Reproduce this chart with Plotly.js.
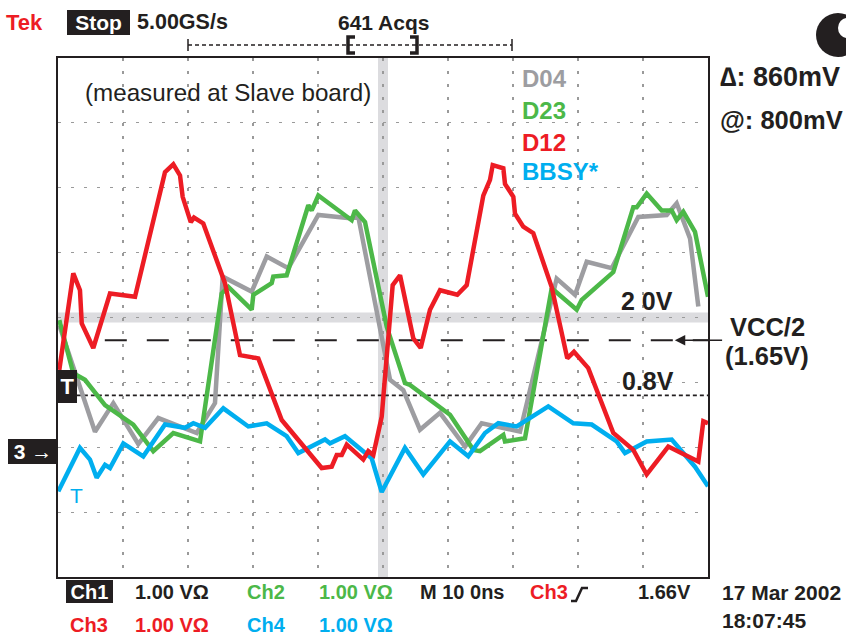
<!DOCTYPE html>
<html><head><meta charset="utf-8">
<script src="https://cdn.plot.ly/plotly-3.0.1.min.js"></script>
<style>html,body{margin:0;padding:0;background:#fff;}#c{width:846px;height:636px;}</style>
</head><body><div id="c"></div>
<script>
// time axis: ns (M 10.0 ns/div), vertical axis: volts (1.00 V/div)
const d04_t = [0.2, 3.38, 5.69, 8.51, 12.35, 15.43, 21.34, 24.15, 25.34, 29.8, 32.11, 35.43, 40.05, 44.92, 46.2, 51.08, 53.12, 55.69, 58.77, 62.62, 65.18, 71.08, 76.72, 79.54, 81.34, 85.18, 89.28, 93.65, 95.18, 97.23, 98.51];
const d04_v = [1.88, 0.91, 0.24, 0.68, 0.05, 0.45, 0.22, 0.68, 2.63, 2.40, 2.94, 2.76, 3.58, 3.53, 3.55, 1.04, 0.88, 0.27, 0.53, 0.01, 0.37, 0.24, 2.60, 2.35, 2.86, 2.76, 3.55, 3.58, 3.76, 3.22, 2.17];

const d23_t = [0.2, 2.35, 4.15, 7.23, 11.58, 14.66, 17.74, 21.85, 25.18, 26.2, 29.8, 30.05, 32.88, 33.12, 35.18, 38.51, 39.03, 40.05, 45.18, 45.69, 47.23, 50.57, 53.38, 54.15, 60.31, 63.89, 64.92, 68.51, 68.77, 71.85, 75.95, 79.8, 80.57, 85.43, 88.51, 89.03, 90.57, 92.88, 94.42, 95.18, 96.2, 98.0, 100];
const d23_v = [1.96, 1.14, 1.04, 0.65, 0.35, -0.06, 0.22, 0.09, 2.37, 2.47, 2.12, 2.35, 2.53, 2.63, 2.65, 3.73, 3.65, 3.88, 3.50, 3.65, 3.47, 1.86, 0.99, 0.96, 0.50, -0.04, -0.06, 0.19, 0.09, 0.14, 2.45, 2.12, 2.27, 2.70, 3.70, 3.70, 3.91, 3.65, 3.65, 3.50, 3.63, 3.32, 2.32];

const bbsy_t = [0.05, 3.38, 4.92, 5.95, 7.23, 8.0, 10.05, 13.12, 16.46, 19.54, 20.82, 22.62, 25.43, 29.28, 32.11, 35.18, 36.97, 41.08, 41.85, 44.15, 48.26, 49.8, 53.38, 56.2, 60.31, 63.12, 65.69, 67.74, 70.57, 75.43, 79.28, 82.11, 85.95, 87.23, 90.57, 94.42, 98.0, 100];
const bbsy_v = [-0.68, -0.01, -0.19, -0.47, -0.27, -0.32, 0.06, -0.14, 0.35, 0.30, 0.37, 0.30, 0.60, 0.32, 0.37, 0.17, -0.09, 0.12, 0.06, 0.17, -0.17, -0.69, -0.01, -0.42, 0.09, -0.14, 0.22, 0.37, 0.32, 0.63, 0.37, 0.35, 0.09, -0.09, 0.09, 0.12, -0.30, -0.60];

const d12_t = [0.2, 2.35, 3.38, 3.65, 5.43, 8.0, 11.85, 16.46, 17.74, 18.77, 19.18, 20.42, 20.92, 22.35, 25.69, 28.0, 30.82, 34.42, 40.57, 42.11, 42.88, 43.65, 44.42, 46.97, 47.74, 48.51, 49.8, 51.49, 52.62, 54.66, 55.8, 57.23, 58.77, 61.43, 62.88, 65.43, 66.46, 66.88, 68.51, 68.77, 70.05, 70.31, 71.58, 73.12, 75.95, 78.35, 79.38, 81.58, 85.43, 88.51, 90.57, 93.89, 98.51, 99.28, 100];
const d12_v = [1.19, 2.68, 2.42, 1.91, 1.53, 2.37, 2.32, 4.24, 4.36, 4.19, 3.86, 3.47, 3.54, 3.45, 2.53, 1.42, 1.37, 0.42, -0.32, -0.30, -0.12, -0.12, 0.04, -0.19, -0.06, -0.12, 0.47, 2.50, 2.65, 1.68, 1.53, 2.12, 2.42, 2.35, 2.50, 3.88, 4.12, 4.35, 4.30, 4.06, 3.86, 3.60, 3.40, 3.30, 2.47, 1.37, 1.47, 1.22, 0.22, -0.04, -0.42, 0.01, -0.22, 0.40, 0.37];

const seriesNames = ['D04', 'D23', 'D12', 'BBSY*'];
const seriesColors = ['#9d9da1', '#4cb848', '#ed1c24', '#00aeef'];
const refLevels = {logicHigh: 2.0, vccHalf: 1.65, logicLow: 0.8, cursorCenter: 50};

const FONT = 'Liberation Sans, Arial, sans-serif';
const PL = 58, PR = 708, PT = 58, PB = 577;
const px = x => (x - PL) / (PR - PL);
const py = y => (PB - y) / (PB - PT);

function T(text, x, y, size, color, anchor, bold, extra) {
  return Object.assign({
    xref: 'paper', yref: 'paper', x: px(x), y: py(y),
    text: bold === false ? text : '<b>' + text + '</b>',
    showarrow: false, xanchor: anchor || 'left', yanchor: 'middle',
    font: {family: FONT, size: size, color: color || '#231f20'}
  }, extra || {});
}
function box(text, x0, y0, x1, y1, size) {
  return T(text, (x0 + x1) / 2, (y0 + y1) / 2, size, '#ffffff', 'center', true,
    {bgcolor: '#231f20', borderpad: 0, borderwidth: 0, width: x1 - x0, height: y1 - y0, align: 'center', valign: 'middle'});
}
function pline(x0, y0, x1, y1, w, dash, color) {
  return {type: 'line', xref: 'paper', yref: 'paper', x0: px(x0), y0: py(y0), x1: px(x1), y1: py(y1),
    line: {color: color || '#231f20', width: w, dash: dash || 'solid'}};
}
function ppath(pts, w) {
  const d = pts.map((p, i) => (i ? 'L' : 'M') + px(p[0]) + ',' + py(p[1])).join(' ');
  return {type: 'path', xref: 'paper', yref: 'paper', path: d, line: {color: '#231f20', width: w}};
}

const traces = [
  {x: d04_t, y: d04_v},
  {x: d23_t, y: d23_v},
  {x: bbsy_t, y: bbsy_v, idx: 3},
  {x: d12_t, y: d12_v, idx: 2}
].map((s, i) => {
  const k = s.idx !== undefined ? s.idx : i;
  return {x: s.x, y: s.y, type: 'scatter', mode: 'lines', name: seriesNames[k],
    line: {color: seriesColors[k], width: 4.5}, hoverinfo: 'skip'};
});

const shapes = [
  {type: 'line', xref: 'x', yref: 'y', x0: refLevels.cursorCenter, x1: refLevels.cursorCenter, y0: -2, y1: 6, layer: 'below', line: {color: '#dcdcdf', width: 10}},
  {type: 'line', xref: 'x', yref: 'y', x0: 0, x1: 100, y0: refLevels.logicHigh, y1: refLevels.logicHigh, layer: 'below', line: {color: '#dcdcdf', width: 10}},
  {type: 'line', xref: 'x', yref: 'y', x0: 7.2, x1: 100, y0: refLevels.vccHalf, y1: refLevels.vccHalf, layer: 'below', line: {color: '#231f20', width: 2, dash: '22px,20px'}},
  {type: 'line', xref: 'x', yref: 'y', x0: 2.9, x1: 100, y0: refLevels.logicLow, y1: refLevels.logicLow, layer: 'below', line: {color: '#231f20', width: 1.8, dash: '4px,3px'}},
  pline(188, 45, 512, 45, 1.5, '4px,3px'),
  pline(188, 39, 188, 51, 1.5),
  pline(512, 39, 512, 51, 1.5),
  ppath([[355, 37], [348, 37], [348, 53], [355, 53]], 3.5),
  ppath([[410, 37], [417, 37], [417, 53], [410, 53]], 3.5),
  ppath([[571, 601], [576, 601], [582, 588], [588, 588]], 2.5),
  {type: 'circle', xref: 'paper', yref: 'paper', x0: px(816), x1: px(860), y0: py(57), y1: py(13), fillcolor: '#231f20', line: {width: 0}},
  {type: 'circle', xref: 'paper', yref: 'paper', x0: px(838), x1: px(856), y0: py(38), y1: py(18), fillcolor: '#ffffff', line: {width: 0}}
];

const annotations = [
  T('Tek', 4, 22, 22, '#ed1c24'),
  box('Stop', 67, 10, 130, 35, 21),
  T('5.00GS/s', 135, 22, 21.5),
  T('641 Acqs', 383, 22, 21, null, 'center'),
  T('(measured at Slave board)', 228, 93, 24.2, '#231f20', 'center', false),
  T(seriesNames[0], 520, 78, 24, seriesColors[0]),
  T(seriesNames[1], 520, 110, 24, seriesColors[1]),
  T(seriesNames[2], 520, 142, 24, seriesColors[2]),
  T(seriesNames[3], 520, 171, 24, seriesColors[3]),
  T('\u2206: 860mV', 718, 77, 27),
  T('@: 800mV', 718, 120, 25.5),
  T('2 0V', 619, 301, 25),
  T('0.8V', 620, 381, 25),
  T('VCC/2', 767, 327, 25.5, null, 'center'),
  T('(1.65V)', 767, 356, 25.5, null, 'center'),
  {xref: 'x', yref: 'y', axref: 'x', ayref: 'y', x: 94.9, y: refLevels.vccHalf, ax: 102.4, ay: refLevels.vccHalf,
   text: '', showarrow: true, arrowhead: 2, arrowsize: 1.3, arrowwidth: 1.6, arrowcolor: '#231f20', standoff: 0},
  box('T', 58, 370, 77, 403, 22),
  box('3 \u2192', 8, 439, 58, 464, 21),
  T('T', 68, 495, 21, '#00aeef', 'left', false),
  box('Ch1', 66, 580, 113, 603, 20),
  T('1.00 V\u03a9', 133, 592, 20),
  T('Ch2', 245, 592, 20, seriesColors[1]),
  T('1.00 V\u03a9', 317, 592, 20, seriesColors[1]),
  T('M 10 0ns', 418, 592, 20),
  T('Ch3', 528, 592, 20, seriesColors[2]),
  T('1.66V', 636, 592, 20),
  T('17 Mar 2002', 720, 592, 21),
  T('18:07:45', 720, 620, 21),
  T('Ch3', 68, 625, 20, seriesColors[2]),
  T('1.00 V\u03a9', 133, 625, 20, seriesColors[2]),
  T('Ch4', 245, 625, 20, seriesColors[3]),
  T('1.00 V\u03a9', 317, 625, 20, seriesColors[3])
];

const axisCommon = {showticklabels: false, ticks: '', zeroline: false, showline: true, mirror: true,
  linecolor: '#231f20', linewidth: 2, showgrid: true, gridcolor: '#9a9a9a', gridwidth: 1.2, griddash: '3px,10px', fixedrange: true};

const layout = {
  width: 846, height: 636,
  margin: {l: PL, r: 846 - PR, t: PT, b: 636 - PB, pad: 0},
  paper_bgcolor: '#ffffff', plot_bgcolor: '#ffffff',
  showlegend: false,
  xaxis: Object.assign({range: [0, 100], dtick: 10, tick0: 0}, axisCommon),
  yaxis: Object.assign({range: [-2, 6], dtick: 1, tick0: 0}, axisCommon),
  shapes: shapes,
  annotations: annotations
};

Plotly.newPlot('c', traces, layout, {staticPlot: true, displayModeBar: false});
</script></body></html>
